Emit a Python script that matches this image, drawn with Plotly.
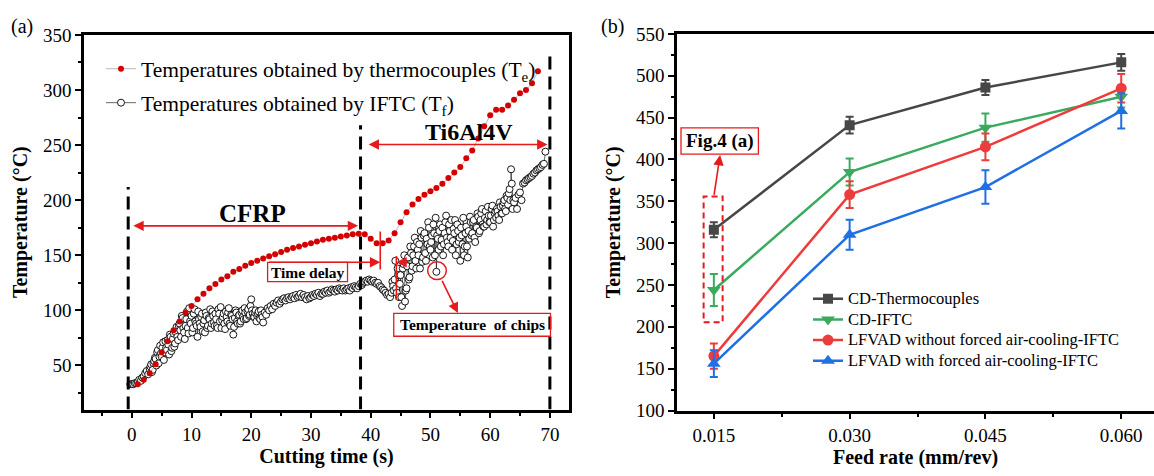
import plotly.graph_objects as go

# ---------------- panel (a) data ----------------
tc_time = [1, 2, 3, 4, 5, 6, 7, 8, 9, 10, 11, 12, 13, 14, 15, 16, 17, 18, 19, 20,
           21, 22, 23, 24, 25, 26, 27, 28, 29, 30, 31, 32, 33, 34, 35, 36, 37, 38, 39, 40,
           41, 42, 43, 44, 45, 46, 47, 48, 49, 50, 51, 52, 53, 54, 55, 56, 57, 58, 59, 60,
           61, 62, 63, 64, 65, 66, 67, 68]
tc_temp = [33, 37, 43, 51, 62, 72, 82, 90, 98, 104, 110, 115, 120, 124, 128, 131, 135, 137.5, 140.5, 143,
           145, 147, 149, 151, 153, 155, 156.5, 158, 159.5, 161, 162.5, 164, 165, 166, 167, 168, 169, 169.5, 169, 165,
           161, 161, 163.5, 170, 180, 189, 196, 201, 205, 208, 211, 215, 220, 225, 230, 238, 245, 256, 267, 277,
           282, 282, 286, 291, 297, 300, 306, 317]

# IFTC readings, main record sampled every 0.25 s starting at -0.25 s
ift_start = -0.25
ift_step = 0.25
ift_temp = [33,
            33, 33, 34, 34, 35, 37, 36, 39, 40, 43, 45, 42, 47, 51, 46, 54, 56, 62, 52, 68,
            58, 71, 62, 66, 73, 60, 76, 66, 79, 70, 85, 73, 88, 76, 93, 80, 86, 99, 79, 90,
            95, 84, 101, 88, 76, 92, 85, 97, 88, 80, 95, 86, 92, 84, 99, 89, 97, 86, 101, 90,
            84, 94, 88, 99, 90, 102, 86, 95, 78, 93, 98, 88, 96, 90, 100, 92, 98, 93, 101, 96,
            110, 97, 94, 100, 95, 99, 92, 96, 89, 98, 96, 102, 100, 104, 101, 106, 104, 107, 109, 106,
            108, 110, 111, 109, 111, 112, 110, 112, 113, 111, 114, 112, 113, 115, 112, 114, 112, 110, 113, 111,
            112, 114, 113, 115, 114, 116, 113, 115, 115, 117, 116, 118, 116, 117, 119, 118, 117, 119, 118, 120,
            119, 118, 120, 118, 119, 120, 118, 121, 120, 122, 121, 120, 122, 124, 123, 125, 126, 127, 126, 128,
            127, 126, 127, 125, 124, 125, 122, 121, 119, 118, 116, 114, 115, 112, 116, 122, 128, 120, 138, 112,
            132, 104, 142, 108, 120, 148, 130, 152, 140, 158, 145, 162, 150, 138, 166, 148, 170, 145, 160, 175,
            155, 168, 178, 150, 135, 165, 172, 158, 175, 160, 180, 166, 158, 172, 182, 163, 170, 150, 178, 162,
            145, 168, 184, 158, 176, 148, 165, 180, 170, 182, 162, 175, 185, 172, 188, 178, 176, 190, 182, 186,
            180, 192, 176, 188, 184, 190, 182, 194, 188, 198, 192, 204, 196, 210, 228, 192, 198, 202, 192, 205,
            207, 200, 215, 216, 218, 219, 220, 221, 222, 224, 225, 227, 228, 229, 230, 232,
            233, 244]
# extra IFTC readings in the noisy CFRP stretch (3.125 s ... 21.875 s, every 0.25 s)
ift_a_start = 3.125
ift_a_temp = [49, 44, 52, 57, 50, 64, 58, 61, 66, 55, 72, 64, 69, 78, 63, 74, 67, 80, 76, 86,
              82, 95, 84, 74, 92, 84, 102, 88, 80, 97, 90, 86, 99, 88, 94, 81, 91, 98, 84, 93,
              101, 88, 95, 86, 92, 84, 97, 103, 91, 97, 83, 94, 98, 88, 96, 92, 85, 100, 90, 95,
              88, 98, 94, 102, 92, 99, 95, 104, 100, 94, 98, 90, 97, 93, 100, 94]
# extra IFTC readings in the noisy Ti6Al4V stretch (43.625 s ... 63.875 s, every 0.25 s)
ift_b_start = 43.625
ift_b_temp = [126, 118,
              145, 116, 132, 124, 112, 138, 150, 118, 140, 128, 158, 136, 150, 166, 138, 155,
              160, 172, 144, 168, 152, 165, 180, 158, 162, 148, 170, 184, 168, 155, 178, 164,
              150, 170, 186, 162, 178, 166, 155, 174, 182, 160, 172, 166, 175, 160, 150, 170,
              158, 172, 185, 168, 180, 166, 176, 188, 170, 182, 192, 176, 184, 178, 194, 180,
              186, 195, 182, 190, 192, 186, 198, 188, 195, 200, 190, 202, 206, 200, 215, 200]

pairs = [(round(ift_start + ift_step * i, 3), v) for i, v in enumerate(ift_temp)]
pairs += [(round(ift_a_start + ift_step * i, 3), v) for i, v in enumerate(ift_a_temp)]
pairs += [(round(ift_b_start + ift_step * i, 3), v) for i, v in enumerate(ift_b_temp)]
pairs.sort(key=lambda p: p[0])
ift_time_all = [p[0] for p in pairs]
ift_temp_all = [p[1] for p in pairs]

# ---------------- panel (b) data ----------------
feed = [0.015, 0.030, 0.045, 0.060]
feed_labels = ["0.015", "0.030", "0.045", "0.060"]
cd_tc = [316, 441, 486, 516]
cd_tc_err = [9, 10, 9, 10]
cd_iftc = [244, 385, 438, 475]
cd_iftc_err = [19, 16, 17, 13]
lf_no = [165, 358, 415, 485]
lf_no_err = [15, 16, 16, 17]
lf_air = [156, 310, 367, 458]
lf_air_err = [16, 18, 20, 21]

FONT = "Liberation Serif, 'Times New Roman', Times, serif"
RED = "#e41a1c"

fig = go.Figure()

# panel (a)
fig.add_trace(go.Scatter(
    x=ift_time_all, y=ift_temp_all, mode="lines+markers", xaxis="x", yaxis="y", legend="legend",
    name="Temperatures obtained by IFTC (T<sub>f</sub>)", legendrank=2, legendgroup="b",
    line=dict(color="black", width=0.6),
    marker=dict(symbol="circle", size=7, color="white", line=dict(color="black", width=0.9))))
fig.add_trace(go.Scatter(
    x=tc_time, y=tc_temp, mode="lines+markers", xaxis="x", yaxis="y", legend="legend",
    name="Temperatures obtained by thermocouples (T<sub>e</sub>)", legendrank=1, legendgroup="a",
    line=dict(color="#888888", width=0.6),
    marker=dict(symbol="circle", size=6, color="#d40000")))

# panel (b)
series_b = [
    ("CD-Thermocouples", cd_tc, cd_tc_err, "#474747", "square", 10),
    ("CD-IFTC", cd_iftc, cd_iftc_err, "#3aaa5f", "triangle-down", 12),
    ("LFVAD without forced air-cooling-IFTC", lf_no, lf_no_err, "#ee3b3b", "circle", 11),
    ("LFVAD with forced air-cooling-IFTC", lf_air, lf_air_err, "#1f6fe5", "triangle-up", 12),
]
for name, vals, errs, col, sym, sz in series_b:
    fig.add_trace(go.Scatter(
        x=feed, y=vals, mode="lines+markers", xaxis="x2", yaxis="y2", legend="legend2",
        name='<span style="font-size:16.5px">%s</span>' % name, line=dict(color=col, width=2.5),
        marker=dict(symbol=sym, size=sz, color=col),
        error_y=dict(type="data", array=errs, visible=True, color=col, thickness=2, width=4)))

axis_common = dict(showline=True, linecolor="black", linewidth=2.5, ticks="outside",
                   ticklen=6, tickwidth=2, tickcolor="black", showgrid=False, zeroline=False,
                   tickfont=dict(family=FONT, size=19, color="black"))

fig.update_layout(
    width=1154, height=476, margin=dict(l=0, r=0, t=0, b=0),
    paper_bgcolor="white", plot_bgcolor="white",
    font=dict(family=FONT, color="black"),
    xaxis=dict(domain=[84/1154, 569/1154], range=[-8, 73.2], anchor="y", mirror=True,
               tickvals=[0, 10, 20, 30, 40, 50, 60, 70],
               minor=dict(tick0=0, dtick=5, ticks="outside", ticklen=3.5, tickwidth=1.5, tickcolor="black"),
               title=dict(text="<b>Cutting time (s)</b>", font=dict(family=FONT, size=20), standoff=0),
               **axis_common),
    yaxis=dict(domain=[1-418/476, 1-26/476], range=[10, 350], anchor="x", mirror=True,
               tickvals=[50, 100, 150, 200, 250, 300, 350],
               minor=dict(tick0=0, dtick=25, ticks="outside", ticklen=3.5, tickwidth=1.5, tickcolor="black"),
               title=dict(text="<b>Temperature (°C)</b>", font=dict(family=FONT, size=20), standoff=10),
               **axis_common),
    xaxis2=dict(domain=[677/1154, 1.0], range=[0.01093, 0.06362], anchor="y2", mirror=True,
                tickvals=feed, ticktext=feed_labels,
                minor=dict(tick0=0.015, dtick=0.0075, ticks="outside", ticklen=3.5, tickwidth=1.5, tickcolor="black"),
                title=dict(text="<b>Feed rate (mm/rev)</b>", font=dict(family=FONT, size=20), standoff=0),
                **axis_common),
    yaxis2=dict(domain=[1-419/476, 1-25/476], range=[100, 550], anchor="x2",
                tickvals=[100, 150, 200, 250, 300, 350, 400, 450, 500, 550],
                minor=dict(tick0=0, dtick=25, ticks="outside", ticklen=3.5, tickwidth=1.5, tickcolor="black"),
                title=dict(text="<b>Temperature (°C)</b>", font=dict(family=FONT, size=20), standoff=10),
                **axis_common),
    legend=dict(x=101/1154, y=1-40/476, xanchor="left", yanchor="top",
                font=dict(family=FONT, size=21.5, color="black"), bgcolor="rgba(0,0,0,0)",
                traceorder="grouped", tracegroupgap=3, itemwidth=30),
    legend2=dict(x=808/1154, y=1-286/476, xanchor="left", yanchor="top",
                 font=dict(family=FONT, size=13.6, color="black"), bgcolor="rgba(0,0,0,0)",
                 itemwidth=30, tracegroupgap=0),
    showlegend=True,
)

shapes = []
# dashed vertical boundaries in (a)
for xv, ytop in [(-0.6, 212), (38.3, 268), (70, 332)]:
    shapes.append(dict(type="line", xref="x", yref="y", x0=xv, x1=xv, y0=10, y1=ytop,
                       line=dict(color="black", width=3, dash="13px,7px")))
# time delay markers
shapes.append(dict(type="line", xref="x", yref="y", x0=41.6, x1=41.6, y0=137, y1=171.6,
                   line=dict(color=RED, width=1.6)))
shapes.append(dict(type="line", xref="x", yref="y", x0=44.3, x1=44.3, y0=109.5, y1=149.4,
                   line=dict(color=RED, width=1.6)))
# boxes
shapes.append(dict(type="rect", xref="x", yref="y", x0=22.74, x1=36.12, y0=126.0, y1=143.6,
                   line=dict(color=RED, width=1.3)))
shapes.append(dict(type="rect", xref="x", yref="y", x0=43.86, x1=70.1, y0=76.5, y1=97.2,
                   line=dict(color=RED, width=1.3)))
shapes.append(dict(type="circle", xref="x", yref="y", x0=51.1-1.56, x1=51.1+1.56, y0=136-8.1, y1=136+8.1,
                   line=dict(color=RED, width=1.5)))
# panel (b) boxes
shapes.append(dict(type="rect", xref="x2", yref="y2", x0=0.01387, x1=0.01597, y0=205.4, y1=355.8,
                   line=dict(color=RED, width=2, dash="6px,4px")))
shapes.append(dict(type="rect", xref="x2", yref="y2", x0=0.011372, x1=0.019923, y0=406.4, y1=437.7,
                   line=dict(color=RED, width=1.3)))
fig.update_layout(shapes=shapes)

def arrow(x, y, ax, ay, xr="x", yr="y", both=False):
    d = dict(x=x, y=y, ax=ax, ay=ay, xref=xr, yref=yr, axref=xr, ayref=yr, text="",
             showarrow=True, arrowhead=2, arrowsize=1.3, arrowwidth=1.6, arrowcolor=RED,
             standoff=0, startstandoff=0)
    if both:
        d.update(arrowside="end+start", startarrowhead=2, startarrowsize=1.3)
    return d

ann = []
ann.append(arrow(37.9, 176.7, 0.0, 176.7, both=True))
ann.append(arrow(69.6, 250.5, 39.4, 250.5, both=True))
ann.append(arrow(41.6, 143.6, 22.74, 143.6))
ann.append(arrow(44.3, 143.6, 46.3, 143.6))
ann.append(arrow(54.6, 97.5, 51.84, 128.2))
ann.append(arrow(0.01569, 405.3, 0.0150, 355.8, xr="x2", yr="y2"))

def txt(x, y, s, size, xr="x", yr="y", bold=True):
    return dict(x=x, y=y, xref=xr, yref=yr, text=("<b>%s</b>" % s) if bold else s,
                showarrow=False, font=dict(family=FONT, size=size, color="black"),
                xanchor="center", yanchor="middle")

ann.append(txt(20.2, 188, "CFRP", 25))
ann.append(txt(56.5, 262, "Ti6Al4V", 24))
ann.append(txt(29.43, 134.8, "Time delay", 15.5))
ann.append(txt(57.0, 86.9, "Temperature&nbsp; of chips", 15.5))
ann.append(txt(0.01565, 422, "Fig.4 (a)", 19, xr="x2", yr="y2"))
ann.append(dict(x=22/1154, y=1-17/476, xref="paper", yref="paper", text="(a)", showarrow=False,
                font=dict(family=FONT, size=20, color="black"), xanchor="center", yanchor="middle"))
ann.append(dict(x=612/1154, y=1-17/476, xref="paper", yref="paper", text="(b)", showarrow=False,
                font=dict(family=FONT, size=20, color="black"), xanchor="center", yanchor="middle"))
fig.update_layout(annotations=ann)

fig.write_html("out.html", config={"displayModeBar": False},
               post_script="document.body.style.margin='0';document.body.style.overflow='hidden';")
